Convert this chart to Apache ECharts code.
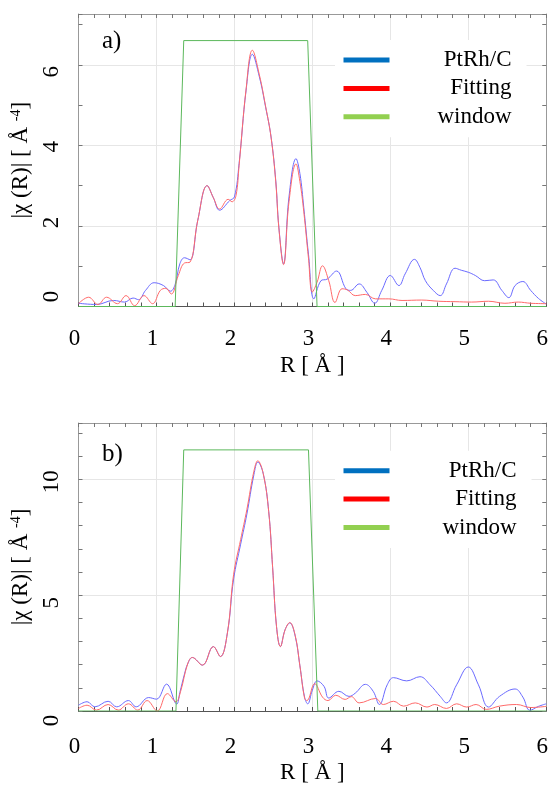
<!DOCTYPE html>
<html>
<head>
<meta charset="utf-8">
<script src="https://cdn.jsdelivr.net/npm/echarts@6/dist/echarts.min.js"></script>
<style>
html,body{margin:0;padding:0;background:#fff;}
#chart{width:551px;height:785px;}
</style>
</head>
<body>
<div id="chart"></div>
<script>
// ---------- data ----------
const seriesNames = ['PtRh/C', 'Fitting', 'window'];
const xTicks = [0, 1, 2, 3, 4, 5, 6];
const yTicksA = [0, 2, 4, 6];
const yTicksB = [0, 5, 10];

// panel a) measured data
const rDataA = [0, 0.23, 0.45, 0.59, 0.7, 0.77, 0.86, 0.97, 1.09, 1.18, 1.24, 1.30, 1.36, 1.43, 1.53, 1.65, 1.73, 1.81, 1.94, 2.0, 2.06, 2.15, 2.23, 2.32, 2.40, 2.47, 2.53, 2.57, 2.63, 2.70, 2.79, 2.84, 2.89, 2.95, 3.02, 3.11, 3.19, 3.31, 3.43, 3.49, 3.6, 3.7, 3.8, 3.89, 4.0, 4.11, 4.19, 4.31, 4.38, 4.45, 4.55, 4.64, 4.72, 4.83, 4.91, 5.0, 5.09, 5.21, 5.32, 5.43, 5.52, 5.6, 5.7, 5.8, 5.9, 6.0];
const chiDataA = [0.08, 0.05, 0.15, 0.11, 0.21, 0.17, 0.4, 0.59, 0.52, 0.38, 0.55, 1.06, 1.21, 1.16, 2.14, 3.0, 2.7, 2.39, 2.63, 2.72, 3.55, 5.37, 6.26, 5.7, 4.95, 4.21, 3.13, 1.97, 1.06, 2.72, 3.67, 3.3, 2.45, 1.3, 0.19, 0.64, 0.68, 0.88, 0.44, 0.4, 0.56, 0.35, 0.08, 0.4, 0.77, 0.52, 0.81, 1.17, 0.97, 0.64, 0.4, 0.27, 0.56, 0.95, 0.9, 0.85, 0.77, 0.64, 0.66, 0.4, 0.22, 0.52, 0.62, 0.4, 0.2, 0.06];

// panel a) fit
const rFitA = [0, 0.13, 0.25, 0.36, 0.5, 0.61, 0.72, 0.84, 0.95, 1.05, 1.12, 1.19, 1.28, 1.36, 1.43, 1.53, 1.65, 1.73, 1.81, 1.92, 1.97, 2.02, 2.06, 2.15, 2.23, 2.32, 2.40, 2.47, 2.53, 2.57, 2.63, 2.70, 2.79, 2.84, 2.89, 2.95, 3.0, 3.06, 3.13, 3.21, 3.29, 3.38, 3.45, 3.55, 3.68, 3.81, 3.98, 4.15, 4.4, 4.62, 4.83, 5.04, 5.26, 5.47, 5.64, 5.8, 6.0];
const chiFitA = [0.07, 0.23, 0.05, 0.23, 0.07, 0.27, 0.02, 0.27, 0.07, 0.4, 0.45, 0.31, 0.77, 1.08, 1.1, 2.14, 3.0, 2.7, 2.42, 2.66, 2.6, 2.75, 3.5, 5.4, 6.36, 5.75, 4.97, 4.2, 3.1, 1.95, 1.04, 2.6, 3.54, 3.1, 2.35, 1.2, 0.36, 0.6, 1.01, 0.64, 0.1, 0.44, 0.41, 0.27, 0.3, 0.19, 0.19, 0.15, 0.16, 0.13, 0.12, 0.11, 0.13, 0.08, 0.11, 0.08, 0.07];

// panel a) window
const rWinA = [0, 1.24, 1.35, 2.94, 3.06, 6.0];
const chiWinA = [0, 0, 6.6, 6.6, 0, 0];

// panel b) measured data
const rDataB = [0, 0.11, 0.21, 0.38, 0.49, 0.64, 0.74, 0.9, 1.0, 1.13, 1.26, 1.3, 1.36, 1.4, 1.46, 1.59, 1.73, 1.82, 1.91, 1.99, 2.08, 2.16, 2.25, 2.30, 2.37, 2.44, 2.49, 2.54, 2.59, 2.65, 2.71, 2.78, 2.84, 2.9, 2.94, 3.0, 3.06, 3.15, 3.21, 3.34, 3.47, 3.55, 3.68, 3.78, 3.86, 3.96, 4.04, 4.21, 4.38, 4.51, 4.64, 4.72, 4.85, 5.0, 5.13, 5.26, 5.4, 5.6, 5.7, 5.79, 5.9, 6.0];
const chiDataB = [0.25, 0.4, 0.18, 0.42, 0.18, 0.45, 0.18, 0.58, 0.51, 1.16, 0.3, 0.8, 1.6, 2.03, 2.31, 1.98, 2.78, 2.35, 3.37, 5.7, 7.2, 8.5, 10.2, 10.74, 10.24, 8.61, 6.2, 3.65, 2.78, 3.51, 3.8, 3.23, 1.95, 0.6, 0.31, 0.9, 1.3, 1.06, 0.56, 0.85, 0.63, 0.77, 1.15, 0.85, 0.28, 1.13, 1.44, 1.3, 1.48, 1.13, 0.63, 0.35, 1.13, 1.9, 1.13, 0.17, 0.63, 0.95, 0.6, 0.03, 0.2, 0.31];

// panel b) fit
const rFitB = [0, 0.11, 0.23, 0.38, 0.51, 0.64, 0.76, 0.88, 1.01, 1.14, 1.25, 1.31, 1.4, 1.46, 1.59, 1.73, 1.82, 1.91, 1.99, 2.08, 2.16, 2.25, 2.30, 2.37, 2.44, 2.49, 2.54, 2.59, 2.65, 2.71, 2.78, 2.84, 2.9, 2.93, 3.03, 3.13, 3.2, 3.3, 3.42, 3.5, 3.6, 3.81, 3.91, 4.04, 4.17, 4.32, 4.47, 4.57, 4.72, 4.85, 4.98, 5.1, 5.23, 5.4, 5.62, 5.8, 6.0];
const chiFitB = [0.11, 0.25, 0.04, 0.28, 0.04, 0.31, 0.04, 0.45, 0.0, 0.75, 0.4, 0.85, 2.03, 2.31, 1.98, 2.78, 2.35, 3.37, 5.9, 7.4, 8.7, 10.35, 10.8, 10.24, 8.6, 6.2, 3.65, 2.78, 3.5, 3.82, 3.25, 1.95, 0.55, 0.45, 1.18, 0.6, 0.45, 0.68, 0.5, 0.62, 0.35, 0.54, 0.28, 0.42, 0.21, 0.35, 0.17, 0.28, 0.11, 0.31, 0.17, 0.28, 0.07, 0.21, 0.28, 0.15, 0.2];

// panel b) window
const rWinB = [0, 1.25, 1.35, 2.95, 3.07, 6.0];
const chiWinB = [0, 0, 11.27, 11.27, 0, 0];

// ---------- helpers ----------
const pairs = (xs, ys) => xs.map((x, i) => [x, ys[i]]);
const FONT = 'Liberation Serif';
const FS = 23;
const lineColors = ['#6a6aff', '#ff6a6a', '#5cb85c'];
const legendColors = ['#0070C0', '#FF0000', '#92D050'];

// per-label nudges of the rotated y tick labels (padding along the text direction)
const yLabelPadA = { 0: [0, 0, 0, 20], 2: [0, 0, 0, 7], 4: [0, 3, 0, 0], 6: [0, 14, 0, 0] };
const yLabelPadB = { 0: [0, 19, 0, 0], 5: [0, 15, 0, 0], 10: [0, 5, 0, 0] };

function mainX(gridIndex, labelMargin, nameGap) {
  return {
    type: 'value', gridIndex, position: 'bottom',
    min: xTicks[0], max: xTicks[xTicks.length - 1], interval: xTicks[1] - xTicks[0],
    name: 'R [ Å ]', nameLocation: 'middle', nameGap,
    nameTextStyle: { fontFamily: FONT, fontSize: FS, color: '#000' },
    axisLine: { show: true, onZero: false, lineStyle: { color: '#555', width: 1 } },
    axisTick: { show: true, inside: true, length: 4, lineStyle: { color: '#555' } },
    minorTick: { show: true, splitNumber: 5, length: 4, lineStyle: { color: '#555' } },
    axisLabel: { margin: labelMargin, fontFamily: FONT, fontSize: FS, color: '#000', padding: [0, 8, 0, 0] },
    splitLine: { show: true, lineStyle: { color: '#e6e6e6', width: 1 } },
    minorSplitLine: { show: false }
  };
}
function mirrorX(gridIndex) {
  return {
    type: 'value', gridIndex, position: 'top',
    min: xTicks[0], max: xTicks[xTicks.length - 1], interval: 1,
    axisLine: { show: true, onZero: false, lineStyle: { color: '#999', width: 1 } },
    axisTick: { show: true, inside: true, length: 4, lineStyle: { color: '#777' } },
    minorTick: { show: true, splitNumber: 5, length: 4, lineStyle: { color: '#777' } },
    axisLabel: { show: false }, splitLine: { show: false }
  };
}
function mainY(gridIndex, ticks, max, pads) {
  const rich = {};
  ticks.forEach(t => { rich['v' + t] = { fontFamily: FONT, fontSize: FS, color: '#000', padding: pads[t] || [0, 0, 0, 0] }; });
  return {
    type: 'value', gridIndex, position: 'left',
    min: ticks[0], max, interval: ticks[1] - ticks[0],
    name: '|χ (R)| [ Å {sup|-4}]', nameLocation: 'middle', nameGap: 30, nameRotate: 90,
    nameTextStyle: { fontFamily: FONT, fontSize: FS, color: '#000',
      rich: { sup: { fontFamily: FONT, fontSize: 14, color: '#000', verticalAlign: 'top', padding: [0, 0, 8, 0] } } },
    axisLine: { show: true, onZero: false, lineStyle: { color: '#999', width: 1 } },
    axisTick: { show: false },
    axisLabel: { rotate: 90, margin: 15, fontFamily: FONT, fontSize: FS, color: '#000', showMaxLabel: false,
      formatter: v => '{v' + v + '|' + v + '}', rich },
    splitLine: { show: true, lineStyle: { color: '#e6e6e6', width: 1 } }
  };
}
function tickY(gridIndex, max, position) {
  return {
    type: 'value', gridIndex, position,
    min: 0, max, interval: 1,
    axisLine: { show: position === 'right', onZero: false, lineStyle: { color: '#999', width: 1 } },
    axisTick: { show: true, inside: true, length: 4, lineStyle: { color: '#777' } },
    axisLabel: { show: false }, splitLine: { show: false }
  };
}
function legendFor(top, textWidth) {
  return {
    orient: 'vertical', left: 335, top,
    padding: [8.5, 15, 9, 8.5],
    backgroundColor: '#fff',
    itemWidth: 46, itemHeight: 5, itemGap: 5.4,
    icon: 'rect',
    selectedMode: false,
    formatter: n => '{t|' + n + '}',
    textStyle: { fontFamily: FONT, fontSize: FS, color: '#000',
      rich: { t: { width: textWidth, align: 'right', fontFamily: FONT, fontSize: FS, lineHeight: 23, color: '#000' } } },
    data: seriesNames.map((n, i) => ({ name: n, icon: 'rect', itemStyle: { color: legendColors[i], borderWidth: 0 } }))
  };
}
function line(name, xi, yi, data, color, smooth) {
  return {
    type: 'line', name, xAxisIndex: xi, yAxisIndex: yi, data,
    showSymbol: false, symbol: 'none', smooth,
    lineStyle: { color, width: 1 }, itemStyle: { color },
    emphasis: { disabled: true }
  };
}

const Ymax_A = 7.26, Ymax_B = 12.43;

const option = {
  animation: false,
  backgroundColor: '#fff',
  title: [
    { text: 'a)', left: 102, top: 29, padding: 0, textStyle: { fontFamily: FONT, fontSize: 25, fontWeight: 'normal', color: '#000' } },
    { text: 'b)', left: 102, top: 442, padding: 0, textStyle: { fontFamily: FONT, fontSize: 25, fontWeight: 'normal', color: '#000' } }
  ],
  grid: [
    { left: 78.5, right: 2.5, top: 14, height: 292.5, show: false },
    { left: 78.5, right: 2.5, top: 423, height: 293.7, show: false }
  ],
  legend: [legendFor(40, 117), legendFor(450.7, 122)],
  xAxis: [mainX(0, 21, 48), mirrorX(0), mainX(1, 24, 50), mirrorX(1)],
  yAxis: [
    mainY(0, yTicksA, Ymax_A, yLabelPadA), tickY(0, Ymax_A, 'left'), tickY(0, Ymax_A, 'right'),
    mainY(1, yTicksB, Ymax_B, yLabelPadB), tickY(1, Ymax_B, 'left'), tickY(1, Ymax_B, 'right')
  ],
  series: [
    line(seriesNames[0], 0, 0, pairs(rDataA, chiDataA), lineColors[0], 0.4),
    line(seriesNames[1], 0, 0, pairs(rFitA, chiFitA), lineColors[1], 0.4),
    line(seriesNames[2], 0, 0, pairs(rWinA, chiWinA), lineColors[2], false),
    line(seriesNames[0], 2, 3, pairs(rDataB, chiDataB), lineColors[0], 0.4),
    line(seriesNames[1], 2, 3, pairs(rFitB, chiFitB), lineColors[1], 0.4),
    line(seriesNames[2], 2, 3, pairs(rWinB, chiWinB), lineColors[2], false)
  ]
};

const chart = echarts.init(document.getElementById('chart'), null, { renderer: 'canvas' });
chart.setOption(option);
</script>
</body>
</html>
